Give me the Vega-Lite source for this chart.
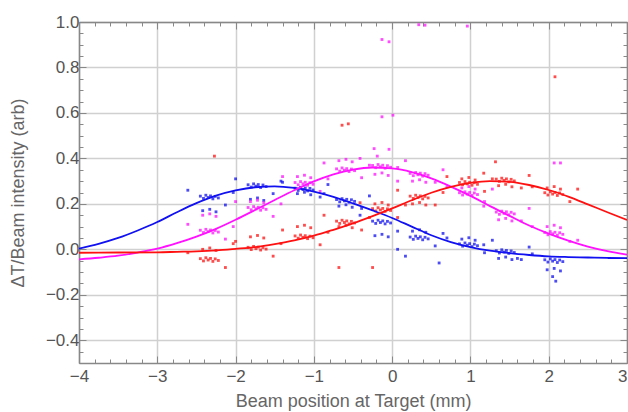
{
  "$schema": "https://vega.github.io/schema/vega-lite/v6.json",
  "width": 548,
  "height": 341,
  "autosize": "none",
  "padding": {"left": 79, "top": 22, "right": 1, "bottom": 49},
  "background": "white",
  "config": {
    "view": {"stroke": null},
    "font": "Liberation Sans",
    "axis": {"labelFont": "Liberation Sans", "titleFont": "Liberation Sans", "titleFontWeight": "normal", "labelColor": "#555555", "titleColor": "#666666", "domainColor": "#888888", "domainWidth": 1.5, "tickColor": "#888888", "tickWidth": 1, "gridColor": "#d0d0d0", "gridWidth": 1.5}
  },
  "datasets": {
    "pts": [
      {"x":-2.45,"y":0.234,"c":"b"},{"x":-2.41,"y":0.224,"c":"b"},{"x":-2.38,"y":0.238,"c":"b"},{"x":-2.35,"y":0.228,"c":"b"},{"x":-2.32,"y":0.235,"c":"b"},{"x":-2.29,"y":0.222,"c":"b"},{"x":-2.26,"y":0.233,"c":"b"},{"x":-2.22,"y":0.226,"c":"b"},{"x":-2.42,"y":0.17,"c":"b"},{"x":-2.33,"y":0.176,"c":"b"},{"x":-2.25,"y":0.165,"c":"b"},{"x":-2.61,"y":0.26,"c":"b"},{"x":-2.13,"y":0.195,"c":"b"},{"x":-2.03,"y":0.25,"c":"b"},
      {"x":-2.45,"y":0.084,"c":"m"},{"x":-2.41,"y":0.074,"c":"m"},{"x":-2.38,"y":0.088,"c":"m"},{"x":-2.35,"y":0.078,"c":"m"},{"x":-2.32,"y":0.085,"c":"m"},{"x":-2.29,"y":0.072,"c":"m"},{"x":-2.26,"y":0.083,"c":"m"},{"x":-2.22,"y":0.076,"c":"m"},{"x":-2.42,"y":0.15,"c":"m"},{"x":-2.33,"y":0.156,"c":"m"},{"x":-2.25,"y":0.145,"c":"m"},{"x":-2.61,"y":0.11,"c":"m"},{"x":-2.13,"y":0.045,"c":"m"},{"x":-2.03,"y":0.1,"c":"m"},
      {"x":-2.45,"y":-0.041,"c":"r"},{"x":-2.41,"y":-0.051,"c":"r"},{"x":-2.38,"y":-0.037,"c":"r"},{"x":-2.35,"y":-0.047,"c":"r"},{"x":-2.32,"y":-0.04,"c":"r"},{"x":-2.29,"y":-0.053,"c":"r"},{"x":-2.26,"y":-0.042,"c":"r"},{"x":-2.22,"y":-0.049,"c":"r"},{"x":-2.42,"y":0.0,"c":"r"},{"x":-2.33,"y":0.006,"c":"r"},{"x":-2.25,"y":-0.005,"c":"r"},{"x":-2.61,"y":-0.015,"c":"r"},{"x":-2.13,"y":-0.08,"c":"r"},{"x":-2.03,"y":0.025,"c":"r"},
      {"x":-1.84,"y":0.284,"c":"b"},{"x":-1.8,"y":0.274,"c":"b"},{"x":-1.77,"y":0.288,"c":"b"},{"x":-1.74,"y":0.278,"c":"b"},{"x":-1.71,"y":0.285,"c":"b"},{"x":-1.68,"y":0.272,"c":"b"},{"x":-1.65,"y":0.283,"c":"b"},{"x":-1.61,"y":0.276,"c":"b"},{"x":-1.81,"y":0.22,"c":"b"},{"x":-1.72,"y":0.226,"c":"b"},{"x":-1.64,"y":0.215,"c":"b"},{"x":-2.0,"y":0.31,"c":"b"},{"x":-1.52,"y":0.245,"c":"b"},{"x":-1.42,"y":0.3,"c":"b"},
      {"x":-1.84,"y":0.184,"c":"m"},{"x":-1.8,"y":0.174,"c":"m"},{"x":-1.77,"y":0.188,"c":"m"},{"x":-1.74,"y":0.178,"c":"m"},{"x":-1.71,"y":0.185,"c":"m"},{"x":-1.68,"y":0.172,"c":"m"},{"x":-1.65,"y":0.183,"c":"m"},{"x":-1.61,"y":0.176,"c":"m"},{"x":-1.81,"y":0.21,"c":"m"},{"x":-1.72,"y":0.216,"c":"m"},{"x":-1.64,"y":0.205,"c":"m"},{"x":-2.0,"y":0.21,"c":"m"},{"x":-1.52,"y":0.145,"c":"m"},{"x":-1.42,"y":0.2,"c":"m"},
      {"x":-1.84,"y":0.009,"c":"r"},{"x":-1.8,"y":-0.001,"c":"r"},{"x":-1.77,"y":0.013,"c":"r"},{"x":-1.74,"y":0.003,"c":"r"},{"x":-1.71,"y":0.01,"c":"r"},{"x":-1.68,"y":-0.003,"c":"r"},{"x":-1.65,"y":0.008,"c":"r"},{"x":-1.61,"y":0.001,"c":"r"},{"x":-1.81,"y":0.055,"c":"r"},{"x":-1.72,"y":0.061,"c":"r"},{"x":-1.64,"y":0.05,"c":"r"},{"x":-2.0,"y":0.035,"c":"r"},{"x":-1.52,"y":-0.03,"c":"r"},{"x":-1.42,"y":0.025,"c":"r"},
      {"x":-1.24,"y":0.269,"c":"b"},{"x":-1.2,"y":0.259,"c":"b"},{"x":-1.17,"y":0.273,"c":"b"},{"x":-1.14,"y":0.263,"c":"b"},{"x":-1.11,"y":0.27,"c":"b"},{"x":-1.08,"y":0.257,"c":"b"},{"x":-1.05,"y":0.268,"c":"b"},{"x":-1.01,"y":0.261,"c":"b"},{"x":-1.21,"y":0.245,"c":"b"},{"x":-1.12,"y":0.251,"c":"b"},{"x":-1.04,"y":0.24,"c":"b"},{"x":-1.4,"y":0.295,"c":"b"},{"x":-0.92,"y":0.23,"c":"b"},{"x":-0.82,"y":0.285,"c":"b"},
      {"x":-1.24,"y":0.294,"c":"m"},{"x":-1.2,"y":0.284,"c":"m"},{"x":-1.17,"y":0.298,"c":"m"},{"x":-1.14,"y":0.288,"c":"m"},{"x":-1.11,"y":0.295,"c":"m"},{"x":-1.08,"y":0.282,"c":"m"},{"x":-1.05,"y":0.293,"c":"m"},{"x":-1.01,"y":0.286,"c":"m"},{"x":-1.21,"y":0.32,"c":"m"},{"x":-1.12,"y":0.326,"c":"m"},{"x":-1.04,"y":0.315,"c":"m"},{"x":-1.4,"y":0.32,"c":"m"},{"x":-0.92,"y":0.255,"c":"m"},{"x":-0.82,"y":0.31,"c":"m"},
      {"x":-1.24,"y":0.059,"c":"r"},{"x":-1.2,"y":0.049,"c":"r"},{"x":-1.17,"y":0.063,"c":"r"},{"x":-1.14,"y":0.053,"c":"r"},{"x":-1.11,"y":0.06,"c":"r"},{"x":-1.08,"y":0.047,"c":"r"},{"x":-1.05,"y":0.058,"c":"r"},{"x":-1.01,"y":0.051,"c":"r"},{"x":-1.21,"y":0.1,"c":"r"},{"x":-1.12,"y":0.106,"c":"r"},{"x":-1.04,"y":0.095,"c":"r"},{"x":-1.4,"y":0.085,"c":"r"},{"x":-0.92,"y":0.02,"c":"r"},{"x":-0.82,"y":0.075,"c":"r"},
      {"x":-0.71,"y":0.219,"c":"b"},{"x":-0.67,"y":0.209,"c":"b"},{"x":-0.64,"y":0.223,"c":"b"},{"x":-0.61,"y":0.213,"c":"b"},{"x":-0.58,"y":0.22,"c":"b"},{"x":-0.55,"y":0.207,"c":"b"},{"x":-0.52,"y":0.218,"c":"b"},{"x":-0.48,"y":0.211,"c":"b"},{"x":-0.68,"y":0.19,"c":"b"},{"x":-0.59,"y":0.196,"c":"b"},{"x":-0.51,"y":0.185,"c":"b"},{"x":-0.87,"y":0.245,"c":"b"},{"x":-0.39,"y":0.18,"c":"b"},{"x":-0.29,"y":0.235,"c":"b"},
      {"x":-0.71,"y":0.354,"c":"m"},{"x":-0.67,"y":0.344,"c":"m"},{"x":-0.64,"y":0.358,"c":"m"},{"x":-0.61,"y":0.348,"c":"m"},{"x":-0.58,"y":0.355,"c":"m"},{"x":-0.55,"y":0.342,"c":"m"},{"x":-0.52,"y":0.353,"c":"m"},{"x":-0.48,"y":0.346,"c":"m"},{"x":-0.68,"y":0.39,"c":"m"},{"x":-0.59,"y":0.396,"c":"m"},{"x":-0.51,"y":0.385,"c":"m"},{"x":-0.87,"y":0.38,"c":"m"},{"x":-0.39,"y":0.315,"c":"m"},{"x":-0.29,"y":0.37,"c":"m"},
      {"x":-0.71,"y":0.124,"c":"r"},{"x":-0.67,"y":0.114,"c":"r"},{"x":-0.64,"y":0.128,"c":"r"},{"x":-0.61,"y":0.118,"c":"r"},{"x":-0.58,"y":0.125,"c":"r"},{"x":-0.55,"y":0.112,"c":"r"},{"x":-0.52,"y":0.123,"c":"r"},{"x":-0.48,"y":0.116,"c":"r"},{"x":-0.68,"y":0.1,"c":"r"},{"x":-0.59,"y":0.106,"c":"r"},{"x":-0.51,"y":0.095,"c":"r"},{"x":-0.87,"y":0.15,"c":"r"},{"x":-0.39,"y":0.085,"c":"r"},{"x":-0.29,"y":0.14,"c":"r"},
      {"x":-0.25,"y":0.124,"c":"b"},{"x":-0.21,"y":0.114,"c":"b"},{"x":-0.18,"y":0.128,"c":"b"},{"x":-0.15,"y":0.118,"c":"b"},{"x":-0.12,"y":0.125,"c":"b"},{"x":-0.09,"y":0.112,"c":"b"},{"x":-0.06,"y":0.123,"c":"b"},{"x":-0.02,"y":0.116,"c":"b"},{"x":-0.22,"y":0.06,"c":"b"},{"x":-0.13,"y":0.066,"c":"b"},{"x":-0.05,"y":0.055,"c":"b"},{"x":-0.41,"y":0.15,"c":"b"},{"x":0.07,"y":0.0,"c":"b"},{"x":0.17,"y":-0.03,"c":"b"},
      {"x":-0.25,"y":0.369,"c":"m"},{"x":-0.21,"y":0.359,"c":"m"},{"x":-0.18,"y":0.373,"c":"m"},{"x":-0.15,"y":0.363,"c":"m"},{"x":-0.12,"y":0.37,"c":"m"},{"x":-0.09,"y":0.357,"c":"m"},{"x":-0.06,"y":0.368,"c":"m"},{"x":-0.02,"y":0.361,"c":"m"},{"x":-0.22,"y":0.33,"c":"m"},{"x":-0.13,"y":0.336,"c":"m"},{"x":-0.05,"y":0.325,"c":"m"},{"x":-0.41,"y":0.4,"c":"m"},{"x":0.07,"y":0.3,"c":"m"},{"x":0.17,"y":0.39,"c":"m"},
      {"x":-0.25,"y":0.179,"c":"r"},{"x":-0.21,"y":0.169,"c":"r"},{"x":-0.18,"y":0.183,"c":"r"},{"x":-0.15,"y":0.173,"c":"r"},{"x":-0.12,"y":0.18,"c":"r"},{"x":-0.09,"y":0.167,"c":"r"},{"x":-0.06,"y":0.178,"c":"r"},{"x":-0.02,"y":0.171,"c":"r"},{"x":-0.22,"y":0.2,"c":"r"},{"x":-0.13,"y":0.206,"c":"r"},{"x":-0.05,"y":0.195,"c":"r"},{"x":-0.41,"y":0.205,"c":"r"},{"x":0.07,"y":0.14,"c":"r"},{"x":0.17,"y":0.195,"c":"r"},
      {"x":0.23,"y":0.054,"c":"b"},{"x":0.27,"y":0.044,"c":"b"},{"x":0.3,"y":0.058,"c":"b"},{"x":0.33,"y":0.048,"c":"b"},{"x":0.36,"y":0.055,"c":"b"},{"x":0.39,"y":0.042,"c":"b"},{"x":0.42,"y":0.053,"c":"b"},{"x":0.46,"y":0.046,"c":"b"},{"x":0.26,"y":0.08,"c":"b"},{"x":0.35,"y":0.086,"c":"b"},{"x":0.43,"y":0.075,"c":"b"},{"x":0.07,"y":0.08,"c":"b"},{"x":0.55,"y":0.015,"c":"b"},{"x":0.65,"y":0.07,"c":"b"},
      {"x":0.23,"y":0.334,"c":"m"},{"x":0.27,"y":0.324,"c":"m"},{"x":0.3,"y":0.338,"c":"m"},{"x":0.33,"y":0.328,"c":"m"},{"x":0.36,"y":0.335,"c":"m"},{"x":0.39,"y":0.322,"c":"m"},{"x":0.42,"y":0.333,"c":"m"},{"x":0.46,"y":0.326,"c":"m"},{"x":0.26,"y":0.3,"c":"m"},{"x":0.35,"y":0.306,"c":"m"},{"x":0.43,"y":0.295,"c":"m"},{"x":0.07,"y":0.36,"c":"m"},{"x":0.55,"y":0.295,"c":"m"},{"x":0.65,"y":0.35,"c":"m"},
      {"x":0.23,"y":0.234,"c":"r"},{"x":0.27,"y":0.224,"c":"r"},{"x":0.3,"y":0.238,"c":"r"},{"x":0.33,"y":0.228,"c":"r"},{"x":0.36,"y":0.235,"c":"r"},{"x":0.39,"y":0.222,"c":"r"},{"x":0.42,"y":0.233,"c":"r"},{"x":0.46,"y":0.226,"c":"r"},{"x":0.26,"y":0.2,"c":"r"},{"x":0.35,"y":0.206,"c":"r"},{"x":0.43,"y":0.195,"c":"r"},{"x":0.07,"y":0.26,"c":"r"},{"x":0.55,"y":0.195,"c":"r"},{"x":0.65,"y":0.25,"c":"r"},
      {"x":0.86,"y":0.024,"c":"b"},{"x":0.9,"y":0.014,"c":"b"},{"x":0.93,"y":0.028,"c":"b"},{"x":0.96,"y":0.018,"c":"b"},{"x":0.99,"y":0.025,"c":"b"},{"x":1.02,"y":0.012,"c":"b"},{"x":1.05,"y":0.023,"c":"b"},{"x":1.09,"y":0.016,"c":"b"},{"x":0.89,"y":0.045,"c":"b"},{"x":0.98,"y":0.051,"c":"b"},{"x":1.06,"y":0.04,"c":"b"},{"x":0.7,"y":0.05,"c":"b"},{"x":1.18,"y":-0.015,"c":"b"},{"x":1.28,"y":0.04,"c":"b"},
      {"x":0.86,"y":0.249,"c":"m"},{"x":0.9,"y":0.239,"c":"m"},{"x":0.93,"y":0.253,"c":"m"},{"x":0.96,"y":0.243,"c":"m"},{"x":0.99,"y":0.25,"c":"m"},{"x":1.02,"y":0.237,"c":"m"},{"x":1.05,"y":0.248,"c":"m"},{"x":1.09,"y":0.241,"c":"m"},{"x":0.89,"y":0.27,"c":"m"},{"x":0.98,"y":0.276,"c":"m"},{"x":1.06,"y":0.265,"c":"m"},{"x":0.7,"y":0.275,"c":"m"},{"x":1.18,"y":0.21,"c":"m"},{"x":1.28,"y":0.265,"c":"m"},
      {"x":0.86,"y":0.294,"c":"r"},{"x":0.9,"y":0.284,"c":"r"},{"x":0.93,"y":0.298,"c":"r"},{"x":0.96,"y":0.288,"c":"r"},{"x":0.99,"y":0.295,"c":"r"},{"x":1.02,"y":0.282,"c":"r"},{"x":1.05,"y":0.293,"c":"r"},{"x":1.09,"y":0.286,"c":"r"},{"x":0.89,"y":0.31,"c":"r"},{"x":0.98,"y":0.316,"c":"r"},{"x":1.06,"y":0.305,"c":"r"},{"x":0.7,"y":0.32,"c":"r"},{"x":1.18,"y":0.255,"c":"r"},{"x":1.28,"y":0.31,"c":"r"},
      {"x":1.33,"y":-0.006,"c":"b"},{"x":1.37,"y":-0.016,"c":"b"},{"x":1.4,"y":-0.002,"c":"b"},{"x":1.43,"y":-0.012,"c":"b"},{"x":1.46,"y":-0.005,"c":"b"},{"x":1.49,"y":-0.018,"c":"b"},{"x":1.52,"y":-0.007,"c":"b"},{"x":1.56,"y":-0.014,"c":"b"},{"x":1.36,"y":-0.04,"c":"b"},{"x":1.45,"y":-0.034,"c":"b"},{"x":1.53,"y":-0.045,"c":"b"},{"x":1.17,"y":0.02,"c":"b"},{"x":1.65,"y":-0.045,"c":"b"},{"x":1.75,"y":0.01,"c":"b"},
      {"x":1.33,"y":0.164,"c":"m"},{"x":1.37,"y":0.154,"c":"m"},{"x":1.4,"y":0.168,"c":"m"},{"x":1.43,"y":0.158,"c":"m"},{"x":1.46,"y":0.165,"c":"m"},{"x":1.49,"y":0.152,"c":"m"},{"x":1.52,"y":0.163,"c":"m"},{"x":1.56,"y":0.156,"c":"m"},{"x":1.36,"y":0.13,"c":"m"},{"x":1.45,"y":0.136,"c":"m"},{"x":1.53,"y":0.125,"c":"m"},{"x":1.17,"y":0.19,"c":"m"},{"x":1.65,"y":0.125,"c":"m"},{"x":1.75,"y":0.18,"c":"m"},
      {"x":1.33,"y":0.309,"c":"r"},{"x":1.37,"y":0.299,"c":"r"},{"x":1.4,"y":0.313,"c":"r"},{"x":1.43,"y":0.303,"c":"r"},{"x":1.46,"y":0.31,"c":"r"},{"x":1.49,"y":0.297,"c":"r"},{"x":1.52,"y":0.308,"c":"r"},{"x":1.56,"y":0.301,"c":"r"},{"x":1.36,"y":0.28,"c":"r"},{"x":1.45,"y":0.286,"c":"r"},{"x":1.53,"y":0.275,"c":"r"},{"x":1.17,"y":0.335,"c":"r"},{"x":1.65,"y":0.27,"c":"r"},{"x":1.75,"y":0.325,"c":"r"},
      {"x":1.95,"y":-0.046,"c":"b"},{"x":1.99,"y":-0.056,"c":"b"},{"x":2.02,"y":-0.042,"c":"b"},{"x":2.05,"y":-0.052,"c":"b"},{"x":2.08,"y":-0.045,"c":"b"},{"x":2.11,"y":-0.058,"c":"b"},{"x":2.14,"y":-0.047,"c":"b"},{"x":2.18,"y":-0.054,"c":"b"},{"x":1.98,"y":-0.09,"c":"b"},{"x":2.07,"y":-0.084,"c":"b"},{"x":2.15,"y":-0.095,"c":"b"},{"x":1.79,"y":-0.02,"c":"b"},{"x":2.05,"y":-0.12,"c":"b"},{"x":2.09,"y":-0.14,"c":"b"},
      {"x":1.95,"y":0.074,"c":"m"},{"x":1.99,"y":0.064,"c":"m"},{"x":2.02,"y":0.078,"c":"m"},{"x":2.05,"y":0.068,"c":"m"},{"x":2.08,"y":0.075,"c":"m"},{"x":2.11,"y":0.062,"c":"m"},{"x":2.14,"y":0.073,"c":"m"},{"x":2.18,"y":0.066,"c":"m"},{"x":1.98,"y":0.1,"c":"m"},{"x":2.07,"y":0.106,"c":"m"},{"x":2.15,"y":0.095,"c":"m"},{"x":1.79,"y":0.1,"c":"m"},{"x":2.27,"y":0.035,"c":"m"},{"x":2.37,"y":0.04,"c":"m"},
      {"x":1.95,"y":0.249,"c":"r"},{"x":1.99,"y":0.239,"c":"r"},{"x":2.02,"y":0.253,"c":"r"},{"x":2.05,"y":0.243,"c":"r"},{"x":2.08,"y":0.25,"c":"r"},{"x":2.11,"y":0.237,"c":"r"},{"x":2.14,"y":0.248,"c":"r"},{"x":2.18,"y":0.241,"c":"r"},{"x":1.98,"y":0.27,"c":"r"},{"x":2.07,"y":0.276,"c":"r"},{"x":2.15,"y":0.265,"c":"r"},{"x":1.79,"y":0.275,"c":"r"},{"x":2.27,"y":0.21,"c":"r"},{"x":2.37,"y":0.265,"c":"r"},
      {"x":-0.13,"y":0.923,"c":"m"},{"x":-0.04,"y":0.913,"c":"m"},{"x":0.34,"y":0.988,"c":"m"},{"x":0.42,"y":0.986,"c":"m"},{"x":0.96,"y":0.982,"c":"m"},{"x":-0.13,"y":0.583,"c":"m"},{"x":0.01,"y":0.59,"c":"m"},{"x":2.07,"y":0.38,"c":"m"},{"x":2.15,"y":0.38,"c":"m"},{"x":-0.19,"y":0.41,"c":"m"},{"x":-0.04,"y":0.44,"c":"m"},{"x":-0.23,"y":0.443,"c":"m"},
      {"x":-0.64,"y":0.546,"c":"r"},{"x":-0.56,"y":0.552,"c":"r"},{"x":2.08,"y":0.759,"c":"r"},{"x":-2.27,"y":0.41,"c":"r"},{"x":1.32,"y":0.385,"c":"r"},{"x":-0.68,"y":-0.08,"c":"r"},{"x":-0.25,"y":-0.08,"c":"r"},
      {"x":0.6,"y":-0.06,"c":"b"},{"x":1.6,"y":-0.04,"c":"b"}
    ],
    "fit": [
      {"x":-4,"y":0.003,"c":"b"},{"x":-3.75,"y":0.024,"c":"b"},{"x":-3.5,"y":0.05,"c":"b"},{"x":-3.25,"y":0.083,"c":"b"},{"x":-3,"y":0.12,"c":"b"},{"x":-2.75,"y":0.163,"c":"b"},{"x":-2.5,"y":0.203,"c":"b"},{"x":-2.25,"y":0.236,"c":"b"},{"x":-2,"y":0.259,"c":"b"},{"x":-1.75,"y":0.273,"c":"b"},{"x":-1.5,"y":0.277,"c":"b"},{"x":-1.25,"y":0.27,"c":"b"},{"x":-1,"y":0.254,"c":"b"},{"x":-0.75,"y":0.231,"c":"b"},{"x":-0.5,"y":0.202,"c":"b"},{"x":-0.25,"y":0.171,"c":"b"},{"x":0,"y":0.138,"c":"b"},{"x":0.25,"y":0.1,"c":"b"},{"x":0.5,"y":0.062,"c":"b"},{"x":0.75,"y":0.032,"c":"b"},{"x":1,"y":0.01,"c":"b"},{"x":1.25,"y":-0.006,"c":"b"},{"x":1.5,"y":-0.017,"c":"b"},{"x":1.75,"y":-0.025,"c":"b"},{"x":2,"y":-0.031,"c":"b"},{"x":2.25,"y":-0.034,"c":"b"},{"x":2.5,"y":-0.036,"c":"b"},{"x":2.75,"y":-0.038,"c":"b"},{"x":3,"y":-0.039,"c":"b"},
      {"x":-4,"y":-0.044,"c":"m"},{"x":-3.75,"y":-0.037,"c":"m"},{"x":-3.5,"y":-0.028,"c":"m"},{"x":-3.25,"y":-0.014,"c":"m"},{"x":-3,"y":0.003,"c":"m"},{"x":-2.75,"y":0.027,"c":"m"},{"x":-2.5,"y":0.056,"c":"m"},{"x":-2.25,"y":0.09,"c":"m"},{"x":-2,"y":0.13,"c":"m"},{"x":-1.75,"y":0.173,"c":"m"},{"x":-1.5,"y":0.217,"c":"m"},{"x":-1.25,"y":0.26,"c":"m"},{"x":-1,"y":0.299,"c":"m"},{"x":-0.75,"y":0.33,"c":"m"},{"x":-0.5,"y":0.351,"c":"m"},{"x":-0.25,"y":0.36,"c":"m"},{"x":0,"y":0.356,"c":"m"},{"x":0.25,"y":0.34,"c":"m"},{"x":0.5,"y":0.312,"c":"m"},{"x":0.75,"y":0.276,"c":"m"},{"x":1,"y":0.235,"c":"m"},{"x":1.25,"y":0.19,"c":"m"},{"x":1.5,"y":0.147,"c":"m"},{"x":1.75,"y":0.105,"c":"m"},{"x":2,"y":0.069,"c":"m"},{"x":2.25,"y":0.038,"c":"m"},{"x":2.5,"y":0.012,"c":"m"},{"x":2.75,"y":-0.008,"c":"m"},{"x":3,"y":-0.023,"c":"m"},
      {"x":-4,"y":-0.015,"c":"r"},{"x":-3.5,"y":-0.014,"c":"r"},{"x":-3,"y":-0.013,"c":"r"},{"x":-2.75,"y":-0.011,"c":"r"},{"x":-2.5,"y":-0.009,"c":"r"},{"x":-2.25,"y":-0.005,"c":"r"},{"x":-2,"y":0.002,"c":"r"},{"x":-1.75,"y":0.01,"c":"r"},{"x":-1.5,"y":0.023,"c":"r"},{"x":-1.25,"y":0.039,"c":"r"},{"x":-1,"y":0.06,"c":"r"},{"x":-0.75,"y":0.086,"c":"r"},{"x":-0.5,"y":0.114,"c":"r"},{"x":-0.25,"y":0.146,"c":"r"},{"x":0,"y":0.18,"c":"r"},{"x":0.25,"y":0.216,"c":"r"},{"x":0.5,"y":0.249,"c":"r"},{"x":0.75,"y":0.275,"c":"r"},{"x":1,"y":0.292,"c":"r"},{"x":1.25,"y":0.3,"c":"r"},{"x":1.5,"y":0.297,"c":"r"},{"x":1.75,"y":0.283,"c":"r"},{"x":2,"y":0.261,"c":"r"},{"x":2.25,"y":0.232,"c":"r"},{"x":2.5,"y":0.198,"c":"r"},{"x":2.75,"y":0.163,"c":"r"},{"x":3,"y":0.129,"c":"r"}
    ]
  },
  "resolve": {"axis": {"x": "independent", "y": "independent"}},
  "layer": [
    {
      "data": {"name": "pts"},
      "mark": {"type": "square", "size": 8, "opacity": 0.75, "clip": true},
      "encoding": {
        "x": {"field": "x", "type": "quantitative", "scale": {"domain": [-4, 3], "nice": false, "zero": false},
          "axis": {"orient": "bottom", "title": "Beam position at Target (mm)", "titleFontSize": 18, "titlePadding": 5, "labelFontSize": 17, "labelPadding": 12, "labelFlush": false, "labelOverlap": false,
            "values": [-4,-3.8,-3.6,-3.4,-3.2,-3,-2.8,-2.6,-2.4,-2.2,-2,-1.8,-1.6,-1.4,-1.2,-1,-0.8,-0.6,-0.4,-0.2,0,0.2,0.4,0.6,0.8,1,1.2,1.4,1.6,1.8,2,2.2,2.4,2.6,2.8,3],
            "labelExpr": "abs(datum.value - round(datum.value)) < 1e-6 ? format(datum.value, 'd') : ''",
            "labelAlign": {"condition": {"test": "datum.value >= 2.99", "value": "right"}, "value": "center"},
            "tickSize": {"condition": {"test": "abs(datum.value - round(datum.value)) < 1e-6", "value": -7}, "value": -4},
            "gridOpacity": {"condition": {"test": "abs(datum.value - round(datum.value)) < 1e-6", "value": 1}, "value": 0}}},
        "y": {"field": "y", "type": "quantitative", "scale": {"domain": [-0.5, 1.0], "nice": false, "zero": false},
          "axis": {"orient": "left", "title": "ΔT/Beam intensity (arb)", "titleFontSize": 18, "titlePadding": 18, "labelFontSize": 17, "labelPadding": 7, "labelOverlap": false,
            "values": [-0.5,-0.45,-0.4,-0.35,-0.3,-0.25,-0.2,-0.15,-0.1,-0.05,0,0.05,0.1,0.15,0.2,0.25,0.3,0.35,0.4,0.45,0.5,0.55,0.6,0.65,0.7,0.75,0.8,0.85,0.9,0.95,1.0],
            "labelExpr": "abs(datum.value*5 - round(datum.value*5)) < 1e-6 ? format(datum.value, '.1f') : ''",
            "tickSize": {"condition": {"test": "abs(datum.value*5 - round(datum.value*5)) < 1e-6", "value": -7}, "value": -4},
            "gridOpacity": {"condition": {"test": "abs(datum.value*5 - round(datum.value*5)) < 1e-6", "value": 1}, "value": 0}}},
        "color": {"field": "c", "type": "nominal", "scale": {"domain": ["b", "m", "r"], "range": ["#1010f0", "#ff10ff", "#ff1010"]}, "legend": null}
      }
    },
    {
      "data": {"name": "fit"},
      "mark": {"type": "line", "strokeWidth": 1.8, "interpolate": "monotone", "clip": true},
      "encoding": {
        "x": {"field": "x", "type": "quantitative",
          "axis": {"orient": "top", "title": null, "labels": false, "grid": false,
            "values": [-4,-3.8,-3.6,-3.4,-3.2,-3,-2.8,-2.6,-2.4,-2.2,-2,-1.8,-1.6,-1.4,-1.2,-1,-0.8,-0.6,-0.4,-0.2,0,0.2,0.4,0.6,0.8,1,1.2,1.4,1.6,1.8,2,2.2,2.4,2.6,2.8,3],
            "tickSize": {"condition": {"test": "abs(datum.value - round(datum.value)) < 1e-6", "value": -7}, "value": -4}}},
        "y": {"field": "y", "type": "quantitative",
          "axis": {"orient": "right", "title": null, "labels": false, "grid": false,
            "values": [-0.5,-0.45,-0.4,-0.35,-0.3,-0.25,-0.2,-0.15,-0.1,-0.05,0,0.05,0.1,0.15,0.2,0.25,0.3,0.35,0.4,0.45,0.5,0.55,0.6,0.65,0.7,0.75,0.8,0.85,0.9,0.95,1.0],
            "tickSize": {"condition": {"test": "abs(datum.value*5 - round(datum.value*5)) < 1e-6", "value": -7}, "value": -4}}},
        "color": {"field": "c", "type": "nominal", "scale": {"domain": ["b", "m", "r"], "range": ["#1010f0", "#ff10ff", "#ff1010"]}, "legend": null}
      }
    }
  ]
}
